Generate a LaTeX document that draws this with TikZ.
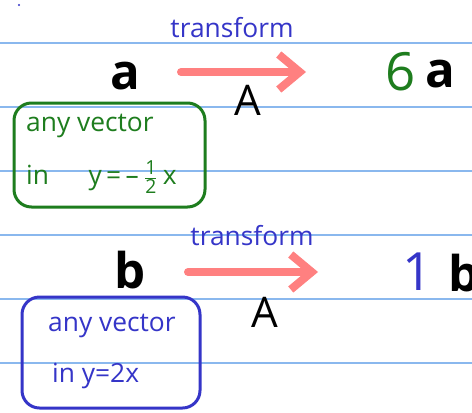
\documentclass[tikz,border=0pt]{standalone}
\usepackage{fontspec}
\setmainfont{Open Sans}
\usetikzlibrary{arrows.meta}
\definecolor{ruled}{HTML}{8AB8EE}
\definecolor{inkgreen}{HTML}{1E7D1E}
\definecolor{inkblue}{HTML}{3535C8}
\definecolor{marker}{HTML}{FF8080}
\newcommand{\halffrac}{$\frac{\mbox{\fontsize{11}{12}\selectfont 1}}{\mbox{\fontsize{11}{12}\selectfont 2}}$}

\begin{document}
\begin{tikzpicture}[x=0.02cm,y=-0.02cm,
    vec/.style={font=\fontsize{28}{30}\selectfont\bfseries},
    val/.style={font=\fontsize{30}{32}\selectfont},
    mat/.style={font=\fontsize{24}{26}\selectfont},
    word/.style={font=\fontsize{15}{18}\selectfont,text=inkblue},
    note/.style={font=\fontsize{15}{18}\selectfont,anchor=west},
    map/.style={line width=0.16cm,draw=marker,line cap=round,
      -{Straight Barb[length=0.42cm,width=0.7cm]}},
    frame/.style={line width=0.06cm,rounded corners=0.35cm}]
  \useasboundingbox (0,0) rectangle (472,412);
  \fill[white] (0,0) rectangle (472,412);
  % ruled paper
  \foreach \y in {43,107,171,235,299,363}
    \draw[ruled,line width=0.03cm] (0,\y) -- (472,\y);
  \fill[inkblue] (19,5) circle (1.2);

  % first vector
  \node[vec] (a) at (125,76) {a};
  \coordinate (a-from) at (181,72);
  \coordinate (a-to) at (306,72);
  \draw[map] (a-from) -- (a-to);
  \node[word] (t1) at (232,28) {transform};
  \node[mat] (A1) at (248,100) {A};
  \node[val,text=inkgreen] (l1) at (401,72) {6};
  \node[vec] (a2) at (440,74) {a};
  \draw[frame,inkgreen] (14,103) rectangle (205,207);
  \node[note,text=inkgreen] (n1) at (20,126) {any vector};
  \node[note,text=inkgreen] (n2) at (20,177) {in\quad\enspace y\,=\,–\,\halffrac\,x};

  % second vector
  \node[vec] (b) at (130,270) {b};
  \coordinate (b-from) at (188,272);
  \coordinate (b-to) at (318,272);
  \draw[map] (b-from) -- (b-to);
  \node[word] (t2) at (252,236) {transform};
  \node[mat] (A2) at (265,312) {A};
  \node[val,text=inkblue] (l2) at (418,272) {1};
  \node[vec] (b2) at (464,273) {b};
  \draw[frame,inkblue] (22,297) rectangle (200,408);
  \node[note,text=inkblue] (n3) at (42,326) {any vector};
  \node[note,text=inkblue] (n4) at (46,376) {in y=2x};
\end{tikzpicture}
\end{document}
